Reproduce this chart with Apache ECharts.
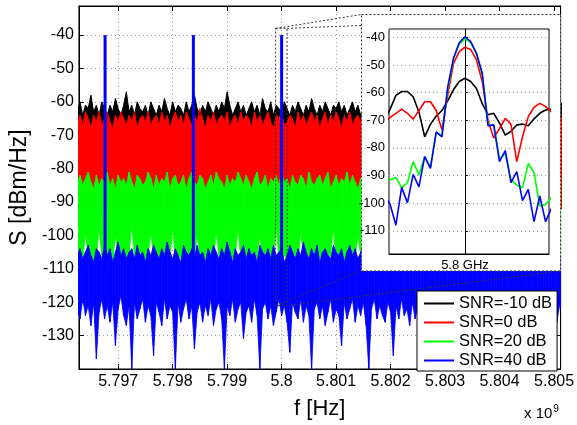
<!DOCTYPE html>
<html><head><meta charset="utf-8">
<script src="https://cdn.jsdelivr.net/npm/echarts@6/dist/echarts.min.js"></script>
<style>html,body{margin:0;padding:0;background:#fff}#c{width:577px;height:425px}</style>
</head><body><div id="c"></div><script>
// ---------- main spectrum (frequency grid in MHz) ----------
const freqStartMHz = 5796.25;
const freqStepMHz = 0.05;
const blackHi = [-63,-60,-64,-61,-62,-58,-63,-61,-64,-60,
 -62,-64,-61,-63,-59,-62,-64,-61,-57,-63,
 -61,-64,-60,-62,-63,-61,-64,-60,-62,-64,
 -61,-63,-59,-62,-64,-60,-63,-61,-62,-64,
 -60,-63,-61,-58,-62,-64,-61,-63,-60,-62,
 -64,-61,-63,-60,-62,-57,-61,-64,-62,-60,
 -63,-61,-64,-62,-60,-63,-61,-64,-59,-62,
 -63,-60,-64,-61,-62,-63,-60,-62,-64,-61,
 -63,-60,-62,-64,-61,-63,-59,-62,-64,-61,
 -63,-60,-62,-64,-61,-62,-60,-63,-61,-64,
 -62,-60,-63,-61,-64,-62,-59,-63,-61,-64,
 -60,-62,-63,-61,-64,-60,-62,-63,-61,-64,
 -62,-60,-63,-61,-62,-64,-60,-63,-61,-62,
 -64,-61,-63,-60,-62,-64,-61,-63,-62,-60,
 -63,-61,-64,-62,-60,-63,-61,-62,-64,-61,
 -63,-60,-62,-64,-61,-63,-62,-60,-64,-61,
 -62,-63,-60,-64,-61,-62,-63,-60,-62,-64,
 -61,-63,-60,-62,-64,-61,-63,-62,-60];
const redHi = [-66,-64,-67,-63,-65,-68,-64,-66,-63,-67,
 -65,-63,-66,-68,-64,-66,-63,-65,-67,-64,
 -66,-63,-68,-65,-64,-66,-63,-67,-65,-64,
 -67,-63,-66,-64,-68,-65,-63,-66,-64,-67,
 -63,-65,-67,-64,-66,-62,-65,-68,-64,-66,
 -63,-67,-65,-64,-66,-63,-68,-65,-64,-67,
 -63,-66,-64,-65,-68,-63,-66,-64,-67,-65,
 -63,-66,-68,-64,-65,-63,-67,-66,-64,-65,
 -68,-63,-66,-64,-67,-65,-63,-66,-64,-68,
 -65,-63,-67,-64,-66,-63,-65,-68,-64,-66,
 -63,-67,-65,-64,-66,-63,-68,-64,-65,-67,
 -63,-66,-64,-68,-65,-63,-66,-64,-67,-65,
 -64,-66,-63,-67,-65,-64,-68,-63,-66,-65,
 -64,-67,-63,-66,-65,-68,-64,-63,-66,-64,
 -67,-65,-63,-66,-64,-68,-65,-63,-67,-64,
 -66,-63,-65,-68,-64,-66,-63,-67,-65,-64,
 -66,-63,-68,-65,-64,-66,-63,-67,-64,-65,
 -63,-66,-64,-67,-65,-63,-66,-68,-64];
const greenHi = [-84,-82,-85,-83,-81,-84,-86,-82,-85,-83,
 -84,-81,-85,-83,-86,-82,-84,-83,-85,-81,
 -84,-86,-82,-83,-85,-84,-81,-83,-86,-82,
 -85,-83,-84,-81,-86,-83,-82,-85,-84,-82,
 -86,-83,-81,-84,-85,-82,-83,-86,-84,-82,
 -85,-81,-83,-84,-86,-82,-85,-83,-84,-81,
 -83,-85,-82,-84,-86,-83,-81,-85,-84,-82,
 -86,-83,-84,-82,-85,-81,-84,-83,-86,-82,
 -84,-85,-82,-83,-86,-81,-84,-85,-83,-82,
 -85,-83,-81,-86,-84,-82,-85,-83,-84,-81,
 -85,-82,-84,-86,-83,-82,-85,-81,-84,-83,
 -86,-82,-84,-83,-85,-81,-83,-86,-84,-82,
 -85,-83,-84,-82,-86,-81,-84,-83,-85,-82,
 -84,-86,-83,-81,-85,-84,-82,-83,-86,-84,
 -82,-85,-83,-84,-81,-86,-83,-82,-85,-84,
 -83,-81,-85,-84,-86,-82,-83,-85,-84,-82,
 -86,-83,-81,-84,-85,-82,-84,-83,-86,-82,
 -85,-83,-84,-81,-85,-83,-86,-82,-84];
const greenLo = [-107,-106,-108,-99,-107,-106,-108,-107,-98,-106,
 -108,-107,-106,-108,-100,-107,-106,-108,-107,-106,
 -97,-107,-108,-106,-107,-108,-106,-99,-107,-108,
 -106,-107,-108,-106,-107,-98,-108,-106,-107,-108,
 -107,-106,-108,-107,-100,-106,-108,-107,-106,-108,
 -107,-99,-106,-108,-107,-106,-108,-107,-106,-98,
 -107,-108,-106,-107,-108,-106,-107,-100,-108,-106,
 -107,-108,-106,-97,-107,-108,-106,-107,-108,-106,
 -107,-108,-99,-106,-107,-108,-106,-107,-108,-107,
 -106,-108,-107,-106,-98,-108,-107,-106,-108,-107,
 -106,-108,-107,-100,-106,-108,-107,-106,-108,-107,
 -99,-106,-108,-107,-106,-108,-107,-106,-98,-108,
 -107,-106,-108,-107,-106,-108,-100,-107,-106,-108,
 -107,-106,-108,-99,-107,-106,-108,-107,-106,-108,
 -107,-98,-106,-108,-107,-106,-108,-107,-100,-106,
 -108,-107,-106,-108,-107,-99,-106,-108,-107,-106,
 -108,-107,-106,-98,-108,-107,-106,-108,-107,-106,
 -108,-107,-100,-106,-108,-107,-106,-108,-107];
const blueHi = [-106,-104,-107,-105,-103,-106,-108,-104,-105,-107,
 -103,-106,-104,-108,-105,-102,-106,-104,-107,-105,
 -104,-107,-103,-106,-105,-108,-104,-106,-103,-105,
 -107,-104,-106,-102,-105,-107,-104,-106,-108,-103,
 -105,-106,-104,-107,-103,-106,-105,-108,-104,-106,
 -103,-105,-107,-104,-106,-102,-105,-108,-104,-106,
 -105,-103,-107,-104,-106,-105,-108,-103,-105,-106,
 -104,-107,-103,-106,-105,-104,-108,-106,-103,-105,
 -107,-104,-106,-102,-105,-107,-104,-106,-103,-108,
 -105,-104,-106,-107,-103,-105,-106,-104,-108,-105,
 -103,-106,-104,-107,-105,-103,-106,-108,-104,-105,
 -107,-103,-106,-104,-105,-108,-103,-106,-105,-104,
 -107,-105,-103,-106,-104,-108,-105,-106,-103,-107,
 -104,-105,-106,-103,-108,-104,-106,-105,-107,-103,
 -106,-104,-105,-108,-103,-106,-104,-107,-105,-104,
 -106,-103,-107,-105,-104,-106,-108,-103,-105,-106,
 -104,-107,-103,-105,-106,-104,-108,-105,-103,-106,
 -105,-104,-107,-103,-106,-105,-104,-107,-105];
const blueLo = [-122,-125,-119,-124,-121,-127,-120,-137,-123,-119,
 -125,-121,-126,-120,-133,-122,-118,-124,-127,-121,
 -140,-120,-125,-122,-119,-126,-121,-124,-136,-120,
 -123,-127,-119,-125,-121,-123,-140,-120,-126,-122,
 -119,-125,-121,-134,-123,-120,-126,-121,-124,-119,
 -127,-122,-120,-125,-140,-121,-124,-119,-126,-122,
 -120,-131,-123,-121,-126,-119,-124,-140,-122,-120,
 -125,-121,-127,-123,-119,-124,-121,-126,-135,-120,
 -123,-125,-119,-126,-121,-124,-140,-122,-120,-125,
 -121,-127,-123,-119,-126,-122,-124,-133,-120,-125,
 -122,-119,-126,-121,-124,-120,-127,-140,-122,-119,
 -125,-121,-124,-126,-120,-123,-136,-121,-125,-119,
 -124,-122,-127,-120,-125,-121,-134,-123,-119,-126,
 -121,-124,-120,-140,-122,-125,-119,-126,-121,-124,
 -127,-120,-123,-135,-121,-125,-119,-124,-122,-126,
 -120,-125,-121,-140,-123,-119,-126,-122,-124,-121,
 -127,-120,-125,-133,-122,-119,-124,-126,-121,-123,
 -125,-120,-138,-122,-124,-119,-126,-121,-123];
const toneFreqsMHz = [5796.76, 5798.38, 5800.0];
const tonePeak = -40;
const toneFoot = -108;
// ---------- inset (offset from 5.8 GHz, kHz) ----------
const insetOffsetsKHz = [-14,-13,-12,-11,-10,-9,-8,-7,-6,-5,-4,-3,-2,-1,0,1,2,3,4,5,6,7,8,9,10,11,12,13,14,15];
const insetBlack = [-70,-66,-61,-59.6,-59.6,-61.5,-67,-76,-71.5,-68.5,-66.5,-63,-59,-56,-54.8,-56,-58.5,-64,-68,-67.5,-71,-75.4,-74,-71.7,-71.4,-72,-69.5,-67.5,-66.3,-66];
const insetRed = [-71,-69,-67.5,-66,-67.5,-69.6,-66.5,-63.3,-63.3,-66.5,-73.5,-61,-49.5,-45.2,-43.6,-44.4,-48.2,-56,-70,-76.5,-73,-69.3,-71.5,-85,-76,-68.7,-65.3,-63.9,-65,-67];
const insetGreen = [-92,-91.5,-90.7,-94.5,-92.6,-85,-89.8,-83.2,-87,-74.5,-75.5,-59,-47.8,-42.5,-40.5,-42,-46,-53.5,-71.5,-72,-84,-82,-91.5,-93.5,-94.4,-85.6,-89,-101,-100.6,-98];
const insetBlue = [-97,-100.5,-108,-94.3,-99.9,-89.6,-94.1,-83.2,-87.4,-74.2,-76,-58,-47.6,-42,-39.8,-41.6,-45.8,-53,-72,-71.7,-85,-81,-92.6,-88.6,-99.1,-95,-106.7,-97.4,-106.7,-102];
const bandwidthKHz = 20;
const arrowLevel = -77.5;
const names = ['SNR=-10 dB','SNR=0 dB','SNR=20 dB','SNR=40 dB'];
const colors = ['#000000','#ff0000','#00ff00','#0000ff'];
// zoom rectangle in main axes (MHz, dB)
const zoomBox = {f0: 5799.89, f1: 5800.10, top: -38, bottom: -121};

const FONT = "'Liberation Sans', Arial, Helvetica, sans-serif";
const freqs = blackHi.map((_, i) => +(freqStartMHz + i * freqStepMHz).toFixed(3));
const pairs = arr => arr.map((v, i) => [freqs[i], v]);
const ipairs = arr => arr.map((v, i) => [insetOffsetsKHz[i], v]);
const grid = {type: [1, 3], color: '#999', width: 1};

// band between a low and a high trace, drawn segment by segment through the axes
function band(name, color, hi, lo, z) {
  return {
    type: 'custom', name: name, color: color, xAxisIndex: 0, yAxisIndex: 0, z: z, clip: true,
    silent: true, animation: false,
    data: freqs.map((f, i) => [f, hi[i], lo[i]]),
    encode: {x: 0, y: [1, 2]},
    renderItem: function (params, api) {
      const i = params.dataIndex;
      if (i >= freqs.length - 1) return {type: 'group', children: []};
      const pts = [api.coord([freqs[i], hi[i]]), api.coord([freqs[i + 1], hi[i + 1]]),
                   api.coord([freqs[i + 1], lo[i + 1]]), api.coord([freqs[i], lo[i]])];
      return {type: 'polygon', shape: {points: pts}, style: {fill: color, stroke: color, lineWidth: 0.8}};
    }
  };
}

const chart = echarts.init(document.getElementById('c'));
const common = {type: 'line', symbol: 'none', xAxisIndex: 0, yAxisIndex: 0, animation: false, silent: true};
const option = {
  animation: false,
  textStyle: {fontFamily: FONT},
  grid: [
    {left: 72, top: 6, right: 15, bottom: 47, show: true, borderColor: '#000', borderWidth: 1},
    {left: 389, top: 29, width: 160, height: 225, show: true, backgroundColor: '#fff', borderColor: '#000', borderWidth: 1, z: 60}
  ],
  xAxis: [
    {type: 'value', gridIndex: 0, min: 5796.28, max: 5805.12, splitNumber: 9,
      axisLine: {show: true, lineStyle: {color: '#000'}},
      axisTick: {inside: true, length: 5, lineStyle: {color: '#000'}},
      axisLabel: {fontSize: 16, color: '#000', margin: 5, showMinLabel: false, showMaxLabel: false,
        formatter: v => String(parseFloat((v / 1000).toFixed(3)))},
      splitLine: {show: true, lineStyle: grid},
      name: 'f [Hz]', nameLocation: 'middle', nameGap: 29, nameTextStyle: {fontSize: 22, color: '#000'}},
    {type: 'value', gridIndex: 0, position: 'top', min: 5796.28, max: 5805.12, splitNumber: 9,
      axisLine: {show: true, lineStyle: {color: '#000'}},
      axisTick: {inside: true, length: 5, lineStyle: {color: '#000'}},
      axisLabel: {show: false}, splitLine: {show: false}},
    {type: 'value', gridIndex: 1, min: -13.2, max: 14.6, z: 60,
      axisLine: {show: true, lineStyle: {color: '#000'}},
      axisTick: {show: false, customValues: [0]},
      axisLabel: {customValues: [0], fontSize: 13, color: '#000', margin: 5, formatter: () => '5.8 GHz'},
      splitLine: {show: true, lineStyle: grid}}
  ],
  yAxis: [
    {type: 'value', gridIndex: 0, min: -140, max: -31.3, interval: 10,
      axisLine: {show: true, lineStyle: {color: '#000'}},
      axisTick: {inside: true, length: 5, lineStyle: {color: '#000'}},
      axisLabel: {fontSize: 16, color: '#000', margin: 5, showMinLabel: false, showMaxLabel: false},
      splitLine: {show: true, lineStyle: grid},
      name: 'S [dBm/Hz]', nameLocation: 'middle', nameGap: 41, nameRotate: 90,
      nameTextStyle: {fontSize: 23, color: '#000'}},
    {type: 'value', gridIndex: 0, position: 'right', min: -140, max: -31.3, interval: 10,
      axisLine: {show: true, lineStyle: {color: '#000'}},
      axisTick: {inside: true, length: 5, lineStyle: {color: '#000'}},
      axisLabel: {show: false}, splitLine: {show: false}},
    {type: 'value', gridIndex: 1, min: -118.4, max: -37, splitNumber: 8, z: 60,
      axisLine: {show: true, lineStyle: {color: '#000'}},
      axisTick: {inside: true, length: 3, lineStyle: {color: '#000'}},
      axisLabel: {fontSize: 13, color: '#000', margin: 4, showMinLabel: false, showMaxLabel: false},
      splitLine: {show: true, lineStyle: grid}}
  ],
  legend: {
    data: names, orient: 'vertical', left: 417, top: 291, icon: 'rect', itemWidth: 30, itemHeight: 2,
    itemGap: 2, padding: [4, 5, 2, 7], backgroundColor: '#fff', borderColor: '#000', borderWidth: 1,
    borderRadius: 0, z: 40, textStyle: {fontSize: 16.5, color: '#000', fontFamily: FONT}, selectedMode: false
  },
  series: [
    Object.assign({}, common, {name: names[0], color: colors[0], data: pairs(blackHi),
      lineStyle: {width: 1, color: colors[0]}, areaStyle: {color: colors[0], opacity: 1, origin: -92}, z: 2}),
    Object.assign({}, common, {name: names[1], color: colors[1], data: pairs(redHi),
      lineStyle: {width: 1, color: colors[1]}, areaStyle: {color: colors[1], opacity: 1, origin: -92}, z: 2}),
    band(names[2], colors[2], greenHi, greenLo, 3),
    band(names[3], colors[3], blueHi, blueLo, 4),
    {type: 'custom', name: 'tones', xAxisIndex: 0, yAxisIndex: 0, z: 5, clip: true, silent: true, animation: false,
      data: toneFreqsMHz.map(f => [f, tonePeak]),
      renderItem: function (params, api) {
        const a = api.coord([api.value(0), toneFoot]);
        const b = api.coord([api.value(0), api.value(1)]);
        return {type: 'line', shape: {x1: a[0], y1: a[1], x2: b[0], y2: b[1]}, style: {stroke: colors[3], lineWidth: 3}};
      }},
    // inset
    {type: 'line', name: names[0], color: colors[0], xAxisIndex: 2, yAxisIndex: 2, data: ipairs(insetBlack),
      symbol: 'none', lineStyle: {width: 1.6, color: colors[0]}, z: 70, silent: true, animation: false,
      markLine: {silent: true, animation: false, symbol: ['arrow', 'arrow'], symbolSize: [8, 8],
        lineStyle: {color: '#000', width: 1.2, type: 'solid'},
        label: {show: true, position: 'middle', formatter: bandwidthKHz + ' kHz', fontSize: 11, color: '#333', distance: 2, fontFamily: FONT},
        data: [[{coord: [-bandwidthKHz / 2, arrowLevel]}, {coord: [bandwidthKHz / 2, arrowLevel]}]]}},
    {type: 'line', name: names[1], color: colors[1], xAxisIndex: 2, yAxisIndex: 2, data: ipairs(insetRed),
      symbol: 'none', lineStyle: {width: 1.6, color: colors[1]}, z: 70, silent: true, animation: false,
      markLine: {silent: true, animation: false, symbol: 'none', label: {show: false},
        lineStyle: {color: '#555', width: 1.2, type: 'solid'},
        data: [[{coord: [-bandwidthKHz / 2, arrowLevel + 3]}, {coord: [-bandwidthKHz / 2, arrowLevel - 3.5]}],
               [{coord: [bandwidthKHz / 2, arrowLevel + 3]}, {coord: [bandwidthKHz / 2, arrowLevel - 3.5]}]]}},
    {type: 'line', name: names[2], color: colors[2], xAxisIndex: 2, yAxisIndex: 2, data: ipairs(insetGreen),
      symbol: 'none', lineStyle: {width: 1.6, color: colors[2]}, z: 70, silent: true, animation: false},
    {type: 'line', name: names[3], color: colors[3], xAxisIndex: 2, yAxisIndex: 2, data: ipairs(insetBlue),
      symbol: 'none', lineStyle: {width: 1.6, color: colors[3]}, z: 70, silent: true, animation: false}
  ]
};
chart.setOption(option);

// inset frame + zoom connector lines
const box = {x0: 361.5, y0: 14.5, x1: 560.5, y1: 271};
const pA = chart.convertToPixel({gridIndex: 0}, [zoomBox.f0, zoomBox.top]);
const pB = chart.convertToPixel({gridIndex: 0}, [zoomBox.f1, zoomBox.bottom]);
const dash = {stroke: '#333', lineWidth: 1, lineDash: [2, 2], fill: null};
chart.setOption({
  graphic: [
    {type: 'rect', z: 50, shape: {x: box.x0, y: box.y0, width: box.x1 - box.x0, height: box.y1 - box.y0},
      style: {fill: '#fff', stroke: '#333', lineWidth: 1, lineDash: [2, 2]}},
    {type: 'rect', z: 6, shape: {x: pA[0], y: pA[1], width: pB[0] - pA[0], height: pB[1] - pA[1]}, style: dash},
    {type: 'line', z: 6, shape: {x1: pA[0], y1: pA[1], x2: box.x0, y2: box.y0}, style: dash},
    {type: 'line', z: 6, shape: {x1: pB[0], y1: pA[1], x2: box.x0, y2: box.y0 + 11}, style: dash},
    {type: 'line', z: 6, shape: {x1: pA[0], y1: pB[1], x2: box.x0, y2: box.y1}, style: dash},
    {type: 'line', z: 6, shape: {x1: pB[0], y1: pB[1], x2: box.x1, y2: box.y1}, style: dash},
    {type: 'text', z: 10, x: 524, y: 404,
      style: {text: '{a|x 10}{b|9}', fill: '#000', font: '14px ' + FONT,
        rich: {a: {fontSize: 15, fontFamily: FONT, fill: '#000'}, b: {fontSize: 10, fontFamily: FONT, fill: '#000', padding: [0, 0, 9, 1]}}}}
  ]
});
</script></body></html>
